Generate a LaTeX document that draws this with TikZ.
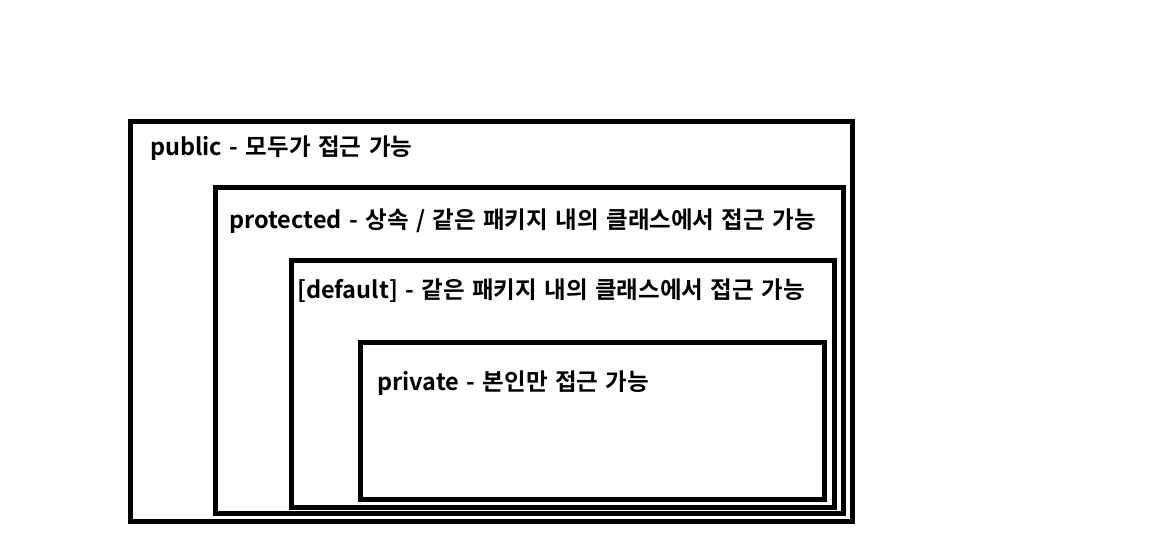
\documentclass[tikz,border=0pt]{standalone}
\usepackage{fontspec}
\setmainfont{Noto Sans CJK KR}[BoldFont={* Bold},WordSpace=1.4]
\begin{document}
\begin{tikzpicture}[x=1pt,y=-1pt,
  frame/.style={draw=black,line width=5pt,fill=none},
  lbl/.style={anchor=base west,inner sep=0pt,font=\fontsize{23.5}{28}\selectfont\bfseries}]
\useasboundingbox (0,0) rectangle (1149,535);
\draw[frame] (130,121.7) rectangle (852.5,521);
\draw[frame] (215.8,187.5) rectangle (843.5,513.3);
\draw[frame] (291,260.7) rectangle (834,507);
\draw[frame] (360.8,342.5) rectangle (824,499);
\node[lbl] (pub) at (150,155.5) {public - 모두가 접근 가능};
\node[lbl] (pro) at (229,228.5) {protected - 상속 / 같은 패키지 내의 클래스에서 접근 가능};
\node[lbl] (def) at (297,298.5) {[default] - 같은 패키지 내의 클래스에서 접근 가능};
\node[lbl] (pri) at (377,390.5) {private - 본인만 접근 가능};
\end{tikzpicture}
\end{document}
